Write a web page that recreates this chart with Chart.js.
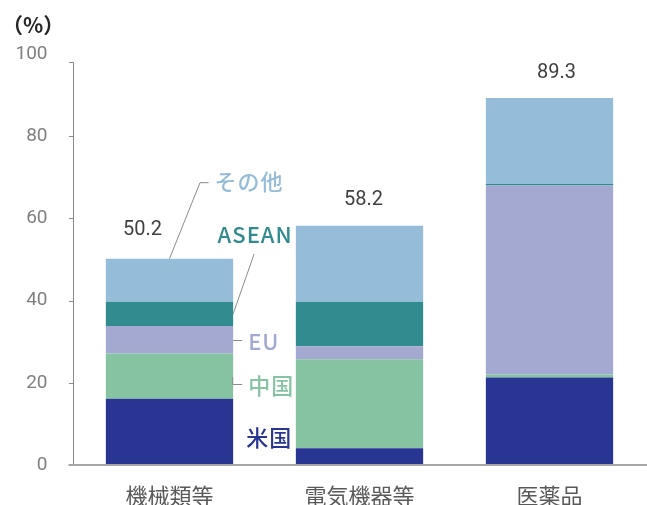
<!DOCTYPE html>
<html>
<head>
<meta charset="utf-8">
<script src="https://cdn.jsdelivr.net/npm/chart.js@4"></script>
<style>
  html, body { margin: 0; padding: 0; background: #fff; }
  #wrap { width: 647px; height: 505px; }
</style>
</head>
<body>
<div id="wrap"><canvas id="myChart" width="647" height="505"></canvas></div>
<script>
var categories = ['機械類等', '電気機器等', '医薬品'];
var seriesNames = ['米国', '中国', 'EU', 'ASEAN', 'その他'];
var usa    = [16.1, 4.1, 21.3];
var china  = [11.0, 21.6, 0.7];
var eu     = [6.7, 3.2, 46.0];
var asean  = [5.9, 10.8, 0.4];
var others = [10.5, 18.5, 20.9];
var yTicks = [0, 20, 40, 60, 80, 100];

var colors = ['#283593', '#86c3a3', '#a3a9d1', '#318b8f', '#95bcd9'];
var JP = '"Noto Sans CJK JP", "Noto Sans", sans-serif';
var NUM = 'Roboto, "Noto Sans", sans-serif';

var values = [usa, china, eu, asean, others];
var datasets = [];
for (var i = 0; i < values.length; i++) {
  datasets.push({
    label: seriesNames[i],
    data: values[i],
    backgroundColor: colors[i],
    borderWidth: 0,
    categoryPercentage: 1,
    barPercentage: 0.67
  });
}

// axes lines, totals, unit, series labels with leader lines
var overlay = {
  id: 'overlay',
  afterDatasetsDraw: function(chart) {
    var c = chart.ctx;
    var ys = chart.scales.y;
    var area = chart.chartArea;
    var yv = function(v) { return ys.getPixelForValue(v); };
    c.save();

    // axis lines (y axis stops a little short of 100, like the original)
    c.strokeStyle = '#8c8c8c';
    c.lineWidth = 1;
    var ax = Math.round(area.left) - 1.5;
    c.beginPath();
    c.moveTo(ax, yv(0));
    c.lineTo(ax, yv(98));
    for (var t = 0; t < yTicks.length - 1; t++) {
      c.moveTo(ax - 4.5, Math.round(yv(yTicks[t])) + 0.5);
      c.lineTo(ax, Math.round(yv(yTicks[t])) + 0.5);
    }
    c.moveTo(ax - 4.5, Math.round(yv(98)) + 0.5);
    c.lineTo(ax, Math.round(yv(98)) + 0.5);
    c.stroke();
    c.strokeStyle = '#a6a6a6';
    c.lineWidth = 2;
    c.beginPath();
    c.moveTo(ax - 5, yv(0));
    c.lineTo(chart.width, yv(0));
    c.stroke();

    c.textBaseline = 'middle';

    // totals
    c.font = '20px ' + NUM;
    c.fillStyle = '#404040';
    c.textAlign = 'center';
    var shiftX = [-27, 4, 7];
    var shiftY = [-29, -26, -25];
    var meta0 = chart.getDatasetMeta(0);
    for (var k = 0; k < categories.length; k++) {
      var tot = 0;
      for (var s = 0; s < values.length; s++) tot += values[s][k];
      c.fillText(tot.toFixed(1), meta0.data[k].x + shiftX[k], yv(tot) + shiftY[k]);
    }

    // unit
    c.textAlign = 'left';
    c.fillStyle = '#262626';
    c.font = 'bold 21px ' + JP;
    c.fillText('（%）', 2, 25);

    // series labels beside the first bar
    var bar = meta0.data[0];
    var right = bar.x + bar.width / 2;
    var cum = [0];
    var acc = 0;
    for (var s2 = 0; s2 < values.length; s2++) { acc += values[s2][0]; cum.push(acc); }
    var mid = function(n) { return yv((cum[n] + cum[n + 1]) / 2); };

    c.strokeStyle = '#8c8c8c';
    c.lineWidth = 1;
    c.font = '500 22px ' + JP;
    c.letterSpacing = '1px';

    // その他
    var topY = yv(cum[5]);
    c.beginPath();
    c.moveTo(bar.x, topY);
    c.lineTo(bar.x + 30.5, topY - 76);
    c.lineTo(bar.x + 39, topY - 76);
    c.stroke();
    c.fillStyle = colors[4];
    c.fillText(seriesNames[4], bar.x + 45, topY - 77);

    // ASEAN
    var aY = mid(3);
    c.beginPath();
    c.moveTo(right, aY);
    c.lineTo(right + 21, aY - 60);
    c.stroke();
    c.fillStyle = colors[3];
    c.textAlign = 'center';
    c.fillText(seriesNames[3], right + 22, aY - 79);

    // EU
    c.textAlign = 'left';
    var eY = Math.round(mid(2)) + 0.5;
    c.beginPath();
    c.moveTo(right, eY);
    c.lineTo(right + 9, eY);
    c.stroke();
    c.fillStyle = colors[2];
    c.fillText(seriesNames[2], right + 15, eY + 1);

    // 中国
    var cY = mid(1);
    c.beginPath();
    c.moveTo(right - 0.5, cY + 1);
    c.lineTo(right - 0.5, Math.round(cY + 8) + 0.5);
    c.lineTo(right + 9, Math.round(cY + 8) + 0.5);
    c.stroke();
    c.fillStyle = colors[1];
    c.fillText(seriesNames[1], right + 15, cY + 9);

    // 米国
    c.fillStyle = colors[0];
    c.fillText(seriesNames[0], right + 13, mid(0) + 6);

    c.restore();
  }
};

var ctx = document.getElementById('myChart').getContext('2d');
var myChart = new Chart(ctx, {
  type: 'bar',
  data: {
    labels: categories,
    datasets: datasets
  },
  options: {
    responsive: false,
    animation: false,
    layout: { padding: { top: 54, right: 2.5, left: 0, bottom: 0 } },
    plugins: {
      legend: { display: false },
      tooltip: { enabled: false }
    },
    scales: {
      x: {
        stacked: true,
        grid: { display: false, drawTicks: false },
        border: { display: false },
        afterFit: function(axis) { axis.height = 40; },
        ticks: { color: '#595959', font: { family: JP, size: 22 }, padding: 17 }
      },
      y: {
        stacked: true,
        min: 0,
        max: 100,
        afterBuildTicks: function(axis) {
          axis.ticks = yTicks.map(function(v) { return { value: v }; });
        },
        afterFit: function(axis) { axis.width = 74.5; },
        grid: { display: false, drawTicks: false },
        border: { display: false },
        ticks: { color: '#808080', font: { family: NUM, size: 19 }, padding: 27 }
      }
    }
  },
  plugins: [overlay]
});
</script>
</body>
</html>
